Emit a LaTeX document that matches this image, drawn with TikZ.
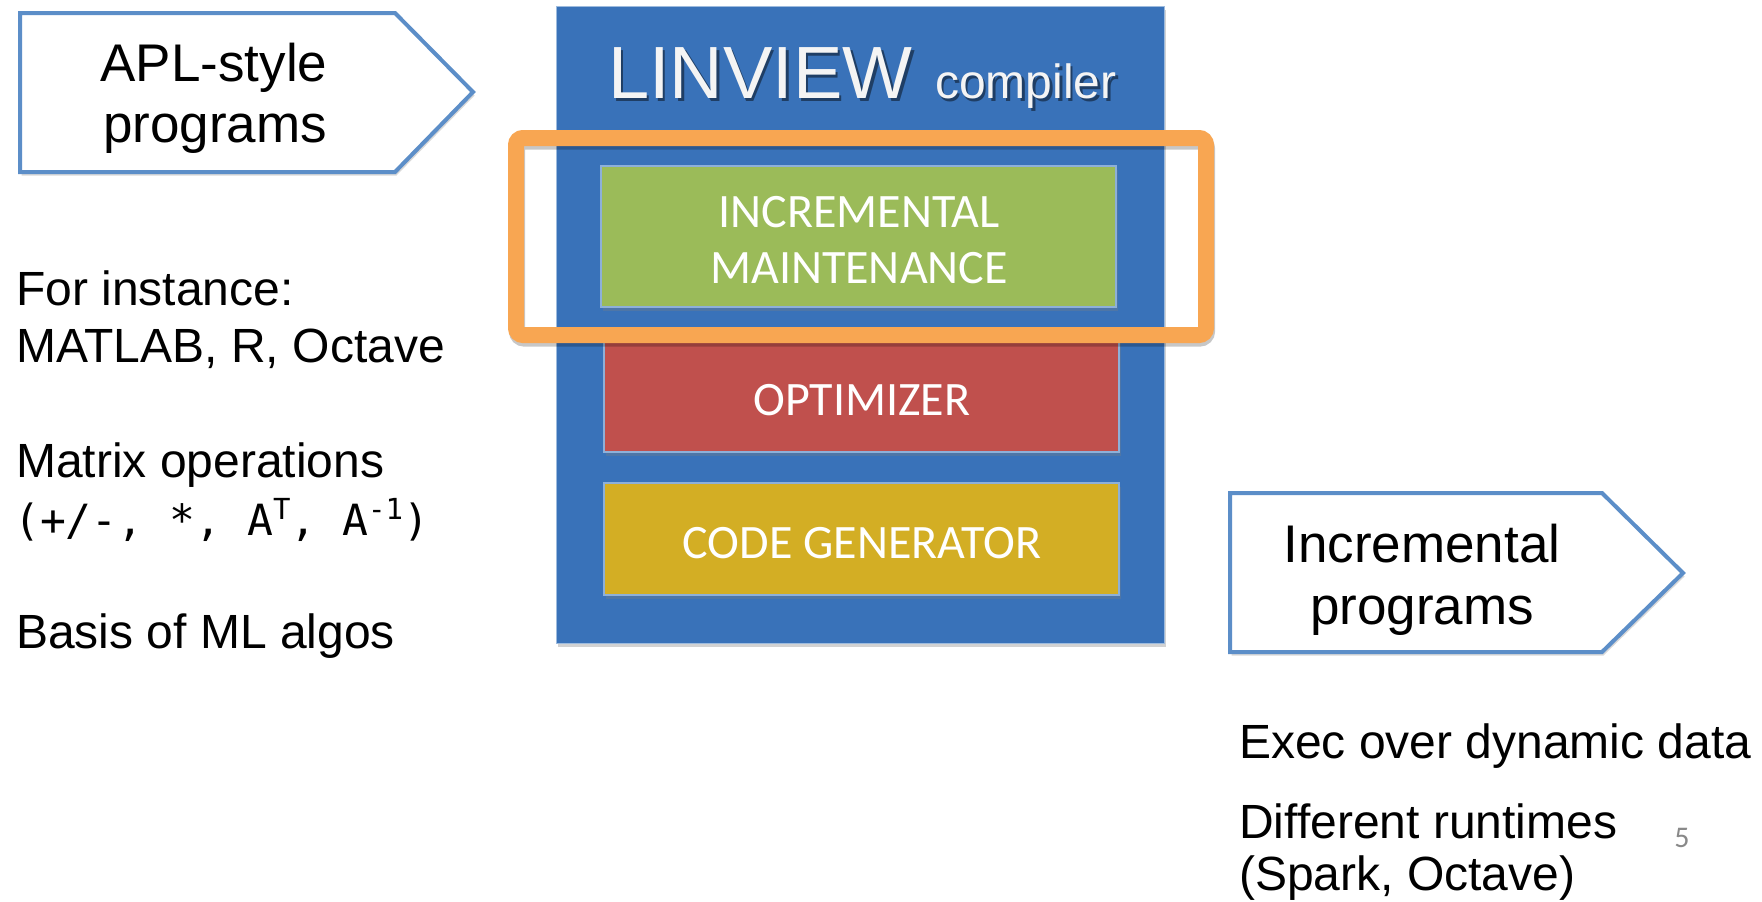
\documentclass[tikz,border=0pt]{standalone}
\usepackage{fontspec}
\setmainfont{Liberation Sans}
\newfontfamily\calibri{Carlito}
\newfontfamily\codefont{DejaVu Sans Mono}
\usetikzlibrary{shadows}

\definecolor{panelblue}{RGB}{57,114,185}
\definecolor{edgeblue}{RGB}{92,142,200}
\definecolor{incgreen}{RGB}{155,187,89}
\definecolor{optred}{RGB}{192,80,77}
\definecolor{gengold}{RGB}{211,174,36}
\definecolor{hlorange}{RGB}{248,166,82}
\definecolor{pagegray}{RGB}{137,137,137}
\definecolor{offwhite}{RGB}{244,244,244}

\newcommand{\fsz}[1]{\fontsize{#1}{#1}\selectfont}
\newcommand{\supr}[1]{\raisebox{0.36em}{\fsz{29}#1}}

\begin{document}
\begin{tikzpicture}[x=1pt,y=-1pt,
  softshadow/.style={drop shadow={opacity=0.30, shadow xshift=1.5pt, shadow yshift=-3.5pt}},
  arrowbox/.style={draw=edgeblue, line width=4pt, fill=white, line join=miter, softshadow},
  stagebox/.style={fill=#1, draw=edgeblue!70!white, line width=1.2pt, softshadow},
  stagetext/.style={font=\calibri\fsz{48}, text=white, anchor=base, inner sep=0pt},
  plaintext/.style={font=\fsz{48}, anchor=base west, inner sep=0pt},
  boxtext/.style={font=\fsz{53}, anchor=base, inner sep=0pt},
  frame/.style={line width=16pt, rounded corners=7pt}
]
\useasboundingbox (0,0) rectangle (1762,902);
\fill[white] (0,0) rectangle (1762,902);

% input arrow
\draw[arrowbox] (20,13) -- (395,13) -- (473,92) -- (395,172) -- (20,172) -- cycle;
\node[boxtext] (aplA) at (214,81) {APL-style};
\node[boxtext] (aplB) at (215,142) {programs};

% left notes
\node[plaintext] (inst) at (16,305) {For instance:};
\node[plaintext] (langs) at (16,362) {MATLAB, R, Octave};
\node[plaintext] (mops) at (16,477) {Matrix operations};
\node[plaintext, font=\codefont\fsz{43}] (ops) at (14,535)
  {(+/-, *, A\supr{T}, A\supr{-1})};
\node[plaintext] (basis) at (16,648) {Basis of ML algos};

% compiler panel
\fill[panelblue, draw=edgeblue!60!white, line width=1pt,
  drop shadow={opacity=0.35, shadow xshift=2pt, shadow yshift=-4pt}]
  (556,6) rectangle (1164,643);
\node[font=\fsz{74}, text=black, opacity=0.45, anchor=base west, inner sep=0pt]
  at (610.5,101) {LINVIEW};
\node[font=\fsz{48}, text=black, opacity=0.45, anchor=base west, inner sep=0pt]
  at (937.5,101) {compiler};
\node[font=\fsz{74}, text=offwhite, anchor=base west, inner sep=0pt]
  (title) at (608,98) {LINVIEW};
\node[font=\fsz{48}, text=offwhite, anchor=base west, inner sep=0pt]
  (sub) at (935,98) {compiler};

% compiler stages
\draw[stagebox=optred] (604,335) rectangle (1119,452);
\draw[stagebox=gengold] (604,483) rectangle (1119,595);
\draw[stagebox=incgreen] (601,166) rectangle (1116,307);
\node[stagetext] (incA) at (859,227) {INCREMENTAL};
\node[stagetext] (incB) at (859,283) {MAINTENANCE};
\node[stagetext] (opt) at (862,415) {OPTIMIZER};
\node[stagetext] (gen) at (862,558) {CODE GENERATOR};

% highlight frame with a faint shadow under its stroke
\draw[frame, black, opacity=0.22] (517,141.5) rectangle (1207,338.5);
\draw[frame, hlorange] (516,138) rectangle (1206,335);

% output arrow
\draw[arrowbox] (1230,493) -- (1602,493) -- (1683,573) -- (1602,652) -- (1230,652) -- cycle;
\node[boxtext] (outA) at (1422,562) {Incremental};
\node[boxtext] (outB) at (1422,624) {programs};

% right notes
\node[plaintext] (exec) at (1239,758) {Exec over dynamic data};
\node[plaintext] (rt) at (1239,838) {Different runtimes};
\node[plaintext] (rtB) at (1239,890) {(Spark, Octave)};
\node[font=\calibri\fsz{30}, text=pagegray, anchor=base, inner sep=0pt] (page) at (1682,847) {5};
\end{tikzpicture}
\end{document}
